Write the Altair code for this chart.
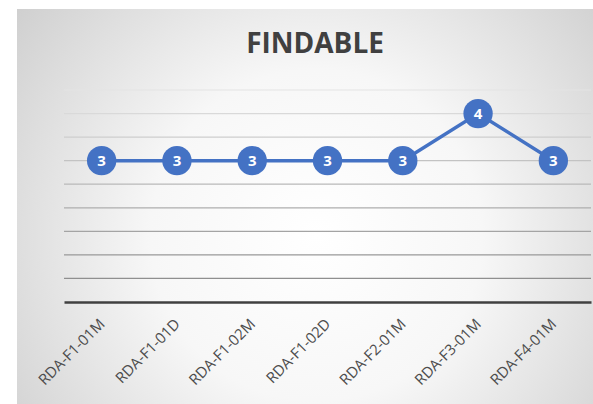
import altair as alt
import pandas as pd

categories = ["RDA-F1-01M", "RDA-F1-01D", "RDA-F1-02M", "RDA-F1-02D",
              "RDA-F2-01M", "RDA-F3-01M", "RDA-F4-01M"]
values = [3, 3, 3, 3, 3, 4, 3]
grid_values = [0.5, 1, 1.5, 2, 2.5, 3, 3.5, 4, 4.5]
title_text = ["FINDABLE"]

df = pd.DataFrame({"cat": categories, "v": values})
gdf = pd.DataFrame({"g": grid_values})
bg = pd.DataFrame({"k": [0]})
tdf = pd.DataFrame({"t": title_text})

xenc = alt.X("cat:N", sort=categories, title=None,
             scale=alt.Scale(paddingInner=0, paddingOuter=0),
             axis=alt.Axis(labelAngle=-45, labelAlign="right", labelBaseline="middle",
                           labelPadding=19, ticks=False, domainColor="#404040",
                           domainWidth=2.5, labelColor="#4d4d4d", labelFont="Open Sans",
                           labelFontSize=15, zindex=1))
yscale = alt.Scale(domain=[0, 4.5], nice=False, zero=True)

background = alt.Chart(bg).mark_rect(
    fill={"gradient": "radial", "x1": 0.52, "y1": 0.55, "x2": 0.52, "y2": 0.55,
          "r1": 0, "r2": 0.72,
          "stops": [{"offset": 0, "color": "#ffffff"},
                    {"offset": 0.4, "color": "#f7f7f7"},
                    {"offset": 1, "color": "#c8c8c8"}]}
).encode(x=alt.value(-47), x2=alt.value(529), y=alt.value(-81), y2=alt.value(314))

grid = alt.Chart(gdf).mark_rule(strokeWidth=1.2).encode(
    y=alt.Y("g:Q", scale=yscale, axis=None),
    x=alt.value(0), x2=alt.value(527),
    color=alt.Color("g:Q", scale=alt.Scale(domain=[0.5, 4.5], range=["#8f8f8f", "#e4e4e4"]),
                    legend=None),
)

title = alt.Chart(tdf).mark_text(font="Open Sans", fontSize=28, fontWeight="bold",
                                 color="#404040", align="center", baseline="alphabetic").encode(
    text="t:N", x=alt.value(251), y=alt.value(-37))

base = alt.Chart(df).encode(x=xenc, y=alt.Y("v:Q", scale=yscale, axis=None))
line = base.mark_line(color="#4472C4", strokeWidth=3.5)
pts = base.mark_circle(size=860, color="#4472C4", opacity=1)
labels = base.mark_text(color="white", font="Open Sans", fontWeight="bold",
                        fontSize=15, baseline="middle", align="center").encode(text="v:Q")

chart = alt.layer(background, grid, title, line, pts, labels).properties(
    width=527, height=212,
    autosize=alt.AutoSizeParams(type="none"),
    padding={"left": 64, "top": 90, "right": 2, "bottom": 102},
).configure_view(stroke=None).configure(background="white")

chart.save("out.html", embed_options={"renderer": "svg", "actions": False})
